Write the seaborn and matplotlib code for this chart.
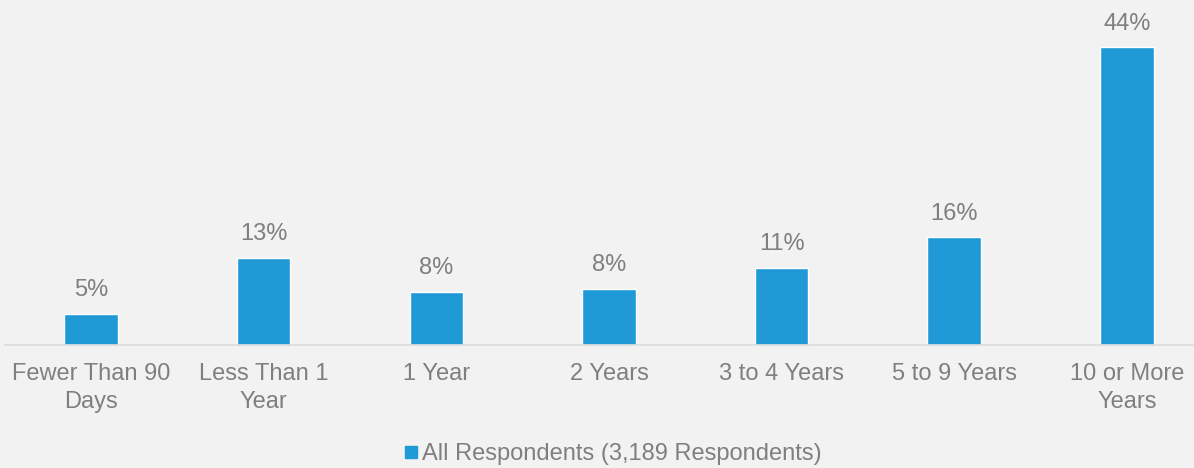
import matplotlib
matplotlib.use("Agg")
import matplotlib.pyplot as plt
from matplotlib.lines import Line2D
import seaborn as sns
import pandas as pd

categories = ["Fewer Than 90\nDays", "Less Than 1\nYear", "1 Year", "2 Years",
              "3 to 4 Years", "5 to 9 Years", "10 or More\nYears"]
shares = [4.6, 12.9, 7.9, 8.3, 11.4, 15.9, 44.0]
series_name = "All Respondents (3,189 Respondents)"

BG = "#f2f2f2"
BAR = "#1f9ad6"
TEXT = "#7f7f7f"
FS = 17

sns.set_theme(style="white")
plt.rcParams["font.family"] = ["Liberation Sans", "DejaVu Sans"]

df = pd.DataFrame({"category": categories, "share": shares})

fig = plt.figure(figsize=(11.94, 4.68), dpi=100, facecolor=BG)
ax = fig.add_axes([0.0039, 0.2628, 1.0122, 0.7235])
ax.set_facecolor(BG)

sns.barplot(data=df, x="category", y="share", color=BAR, width=0.31,
            saturation=1, ax=ax)

ax.set_ylim(0, 50)
ax.set_xlim(-0.5, len(categories) - 0.5)

for i, v in enumerate(shares):
    ax.annotate(f"{v:.0f}%", (i, v), xytext=(0, 9), textcoords="offset points",
                ha="center", va="bottom", fontsize=FS, color=TEXT)

for side in ["top", "right", "left"]:
    ax.spines[side].set_visible(False)
ax.spines["bottom"].set_color("#dcdcdc")
ax.spines["bottom"].set_linewidth(1.2)

ax.set_yticks([])
ax.set_xlabel("")
ax.set_ylabel("")
ax.tick_params(axis="x", length=0, pad=13, labelsize=FS, labelcolor=TEXT)
for lbl in ax.get_xticklabels():
    lbl.set_linespacing(1.32)

handle = Line2D([], [], linestyle="none", marker="s", markersize=9,
                markerfacecolor=BAR, markeredgecolor=BAR)
fig.legend([handle], [series_name], loc="center", bbox_to_anchor=(613 / 1194, 1 - 454 / 468),
           frameon=False, fontsize=FS, labelcolor=TEXT, handlelength=0.6,
           handletextpad=0.15, borderpad=0)

fig.savefig("out.png", dpi=100, facecolor=BG)
